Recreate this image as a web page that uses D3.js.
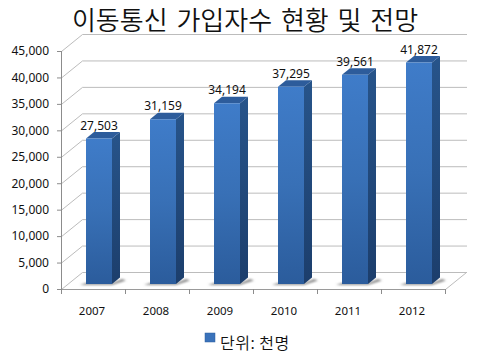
<!DOCTYPE html>
<html><head><meta charset="utf-8">
<script src="https://cdnjs.cloudflare.com/ajax/libs/d3/7.8.5/d3.min.js"></script>
<style>html,body{margin:0;padding:0;background:#fff}svg{display:block}
text{fill:#111}</style></head><body><svg id="c" width="480" height="360"></svg>
<script>
const years=["2007","2008","2009","2010","2011","2012"];
const subscribers=[27503,31159,34194,37295,39561,41872];
const yTicks=[0,5000,10000,15000,20000,25000,30000,35000,40000,45000];
const titleText="이동통신 가입자수 현황 및 전망";
const legendText="단위: 천명";

const latin='"Noto Sans",Arial,sans-serif';
const cjk='"Noto Sans CJK KR",sans-serif';
const svg=d3.select("#c");
const x=d3.scaleBand().domain(years).range([61,445]);
const y=d3.scaleLinear().domain([0,45000]).range([289,51]);
const wallDx=21,wallDy=-17,barW=26,barInset=25,depthX=8,depthY=-6.5,baseDy=-5;
const fmt=d3.format(",");
const defs=svg.append("defs");
const gradient=(id,stops)=>{const g=defs.append("linearGradient").attr("id",id).attr("x1",0).attr("y1",0).attr("x2",0).attr("y2",1);
  stops.forEach(([o,c])=>g.append("stop").attr("offset",o).attr("stop-color",c));};
gradient("front",[[0,"#3f7cc9"],[0.5,"#3870b6"],[1,"#2b5c9c"]]);
gradient("side",[[0,"#27548a"],[1,"#1c3e6c"]]);
const blur=defs.append("filter").attr("id","soft").attr("x","-30%").attr("y","-60%").attr("width","160%").attr("height","220%");
blur.append("feGaussianBlur").attr("stdDeviation",1);

svg.append("text").attr("x",245).attr("y",30).attr("text-anchor","middle")
  .style("font-family",cjk).style("font-size","26px").style("font-weight",350).style("word-spacing","3px").text(titleText);

// walls
const grid=svg.append("g").attr("fill","none").attr("stroke","#bcbcbc").attr("stroke-width",1);
grid.selectAll("path").data(yTicks).join("path")
  .attr("d",d=>{const p=y(d)+.5;return `M61.5,${p}L${61.5+wallDx},${p+wallDy}L${445+wallDx+1},${p+wallDy}`;});
grid.append("path").attr("d",`M445.5,289.5L${445.5+wallDx},${289.5+wallDy}`);

// y axis
const yAxis=svg.append("g").attr("transform","translate(61,0)")
  .call(d3.axisLeft(y).tickValues(yTicks).tickFormat(fmt).tickSize(4).tickPadding(8));
yAxis.selectAll("text").style("font-family",latin).style("font-size","12px");
yAxis.selectAll("line,path").attr("stroke","#8c8c8c");
yAxis.select(".domain").attr("d",`M0.5,${y(45000)}V${y(0)+.5}`);

// x axis
const xAxis=svg.append("g").attr("transform","translate(0,289)")
  .call(d3.axisBottom(x).tickSize(0).tickPadding(18));
xAxis.selectAll("text").style("font-family",latin).style("font-size","11.5px").attr("dx",-1);
xAxis.select(".domain").attr("stroke","#9a9a9a").attr("d","M61,0.5H445.5");
xAxis.append("g").selectAll("line").data([...years.map(d=>x(d)),x.range()[1]]).join("line")
  .attr("x1",d=>Math.round(d)+.5).attr("x2",d=>Math.round(d)+.5).attr("y1",0).attr("y2",5).attr("stroke","#8c8c8c");

// bars
const barY=v=>y(v)+baseDy;
const bars=svg.append("g").selectAll("g").data(years.map((k,i)=>({k,v:subscribers[i]}))).join("g");
const bx=d=>x(d.k)+barInset;
bars.append("path").attr("filter","url(#soft)").attr("fill","#8a8a8a")
  .attr("d",d=>{const b=y(0)+baseDy;const l=bx(d);return `M${l-6},${b+1}L${l+barW},${b+1}L${l+barW+depthX+6},${b-3.5}L${l+barW+depthX+2},${b-5}L${l+barW},${b-1}L${l},${b-1}Z`;});
bars.append("path").attr("fill","url(#side)")
  .attr("d",d=>{const l=bx(d)+barW,t=barY(d.v),b=y(0)+baseDy;return `M${l},${t}L${l+depthX},${t+depthY}L${l+depthX},${b+depthY}L${l},${b}Z`;});
bars.append("path").attr("fill","#2d5c9b")
  .attr("d",d=>{const l=bx(d),t=barY(d.v);return `M${l},${t}L${l+depthX},${t+depthY}L${l+barW+depthX},${t+depthY}L${l+barW},${t}Z`;});
bars.append("path").attr("fill","url(#front)")
  .attr("d",d=>{const l=bx(d),t=barY(d.v),b=y(0)+baseDy;return `M${l},${t}H${l+barW}V${b}H${l}Z`;});
bars.append("text").attr("x",d=>bx(d)+barW/2).attr("y",d=>barY(d.v)+depthY-2.5)
  .attr("text-anchor","middle").style("font-family",latin).style("font-size","12px").text(d=>fmt(d.v));

// legend
svg.append("rect").attr("x",205).attr("y",333).attr("width",10).attr("height",9).attr("fill","#3a72ba").attr("stroke","#2f5f9f").attr("stroke-width",.5);
svg.append("text").attr("x",220).attr("y",349).style("font-family",cjk).style("font-size","16px").style("font-weight",350).style("letter-spacing","0.5px").text(legendText);
</script></body></html>
